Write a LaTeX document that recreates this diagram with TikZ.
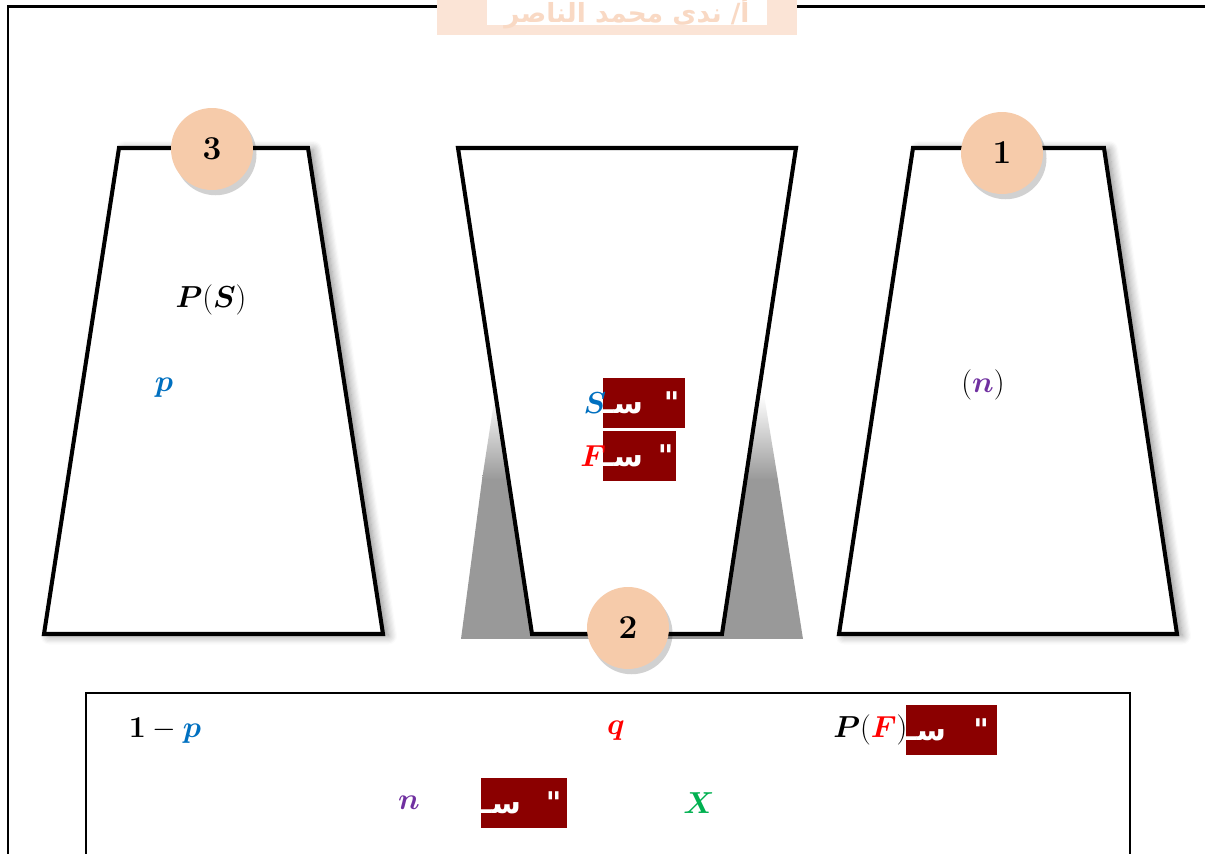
\documentclass[tikz,border=0pt]{standalone}
\usepackage{amsmath, amssymb, bm}
\usepackage{fontspec}
\newfontfamily\arabicfont[Script=Arabic]{DejaVu Sans}
\TeXXeTstate=1
\usetikzlibrary{positioning, shadows, shadows.blur}

\definecolor{mblue}{HTML}{0070C0}
\definecolor{mred}{HTML}{FF0000}
\definecolor{mpurple}{HTML}{7030A0}
\definecolor{mgreen}{HTML}{00B050}
\definecolor{boxred}{HTML}{8B0000}
\definecolor{peach}{HTML}{F6CBAA}
\definecolor{wmpeach}{HTML}{FBE4D6}
\definecolor{wmtext}{HTML}{F9D9C4}

\tikzset{
  trap/.style={draw=black, line width=2.3pt, fill=white, line join=miter},
  trapshadow/.style={blur shadow={shadow xshift=3pt, shadow yshift=-1pt, shadow blur radius=5pt, shadow blur steps=8, shadow opacity=45}},
  numdisc/.style={circle, fill=peach, minimum size=1.64cm, inner sep=0pt,
    font=\fontsize{19}{19}\selectfont\bfseries,
    drop shadow={shadow xshift=2pt, shadow yshift=-3pt, fill=black, opacity=0.18}},
  lbl/.style={font=\fontsize{19}{22}\selectfont, inner sep=1pt},
  redbox/.style={fill=boxred, text=white, anchor=west, inner sep=0pt,
    minimum height=1cm, text width=#1, font=\arabicfont\bfseries\fontsize{17}{17}\selectfont}
}

\begin{document}
\begin{tikzpicture}[x=0.02cm, y=-0.02cm]
\useasboundingbox (0,0) rectangle (1205,854);
% outer frame (runs off the page right and bottom)
\draw[line width=1.7pt] (8,870) -- (8,7) -- (1220,7);
% watermark tab at the top
\fill[wmpeach] (437,-5) rectangle (797,35);
\fill[white] (487,-5) rectangle (767,25);
\node[text=wmtext, font=\arabicfont\bfseries\fontsize{15}{15}\selectfont, inner sep=0pt] (wm) at (627,13) {\beginR أ/ ندى محمد الناصر\endR};

% left trapezoid (3)
\draw[trap, trapshadow] (119,148) -- (308,148) -- (383,634) -- (44,634) -- cycle;
\node[numdisc] (n3) at (212,149) {3};
\node[lbl] (ps) at (211,300) {$\boldsymbol{P}(\boldsymbol{S})$};
\node[lbl, text=mblue] (pl) at (164,388) {$\boldsymbol{p}$};

% middle trapezoid (2), grey shadow behind its slanted sides
\shade[top color=white, bottom color=black!40] (495,395) -- (764,395) -- (778,480) -- (482,480) -- cycle;
\fill[black!40] (482,480) -- (778,480) -- (803,639) -- (461,639) -- cycle;
\draw[trap] (458,148) -- (796,148) -- (722,634) -- (532,634) -- cycle;
\node[numdisc] (n2) at (628,628) {2};
\node[redbox=1.64cm] (sbox) at (603,403) {\beginR"\hspace{0.42cm}سـ\endR};
\node[lbl, text=mblue, left=-3pt of sbox] (sl) {$\boldsymbol{S}$};
\node[redbox=1.46cm] (fbox) at (603,456) {\beginR"\hspace{0.3cm}سـ\endR};
\node[lbl, text=mred, left=-3pt of fbox] (fl) {$\boldsymbol{F}$};

% right trapezoid (1)
\draw[trap, trapshadow] (913,148) -- (1104,148) -- (1177,634) -- (839,634) -- cycle;
\node[numdisc] (n1) at (1002,153) {1};
\node[lbl] (nl) at (983,385) {$(\textcolor{mpurple}{\boldsymbol{n}})$};

% answer box at the bottom
\draw[line width=1.4pt] (86,870) -- (86,693) -- (1130,693) -- (1130,870);
\node[lbl] (qp) at (165,731) {$\boldsymbol{1}-\textcolor{mblue}{\boldsymbol{p}}$};
\node[lbl, text=mred] (ql) at (616,731) {$\boldsymbol{q}$};
\node[redbox=1.82cm] (pfbox) at (906,730) {\beginR"\hspace{0.55cm}سـ\endR};
\node[lbl, left=-2pt of pfbox] (pf) {$\boldsymbol{P}(\textcolor{mred}{\boldsymbol{F}})$};
\node[lbl, text=mpurple] (nn) at (409,803) {$\boldsymbol{n}$};
\node[redbox=1.72cm] (nbox) at (481,803) {\beginR"\hspace{0.5cm}سـ\endR};
\node[lbl, text=mgreen] (xl) at (699,803) {$\boldsymbol{X}$};
\end{tikzpicture}
\end{document}
